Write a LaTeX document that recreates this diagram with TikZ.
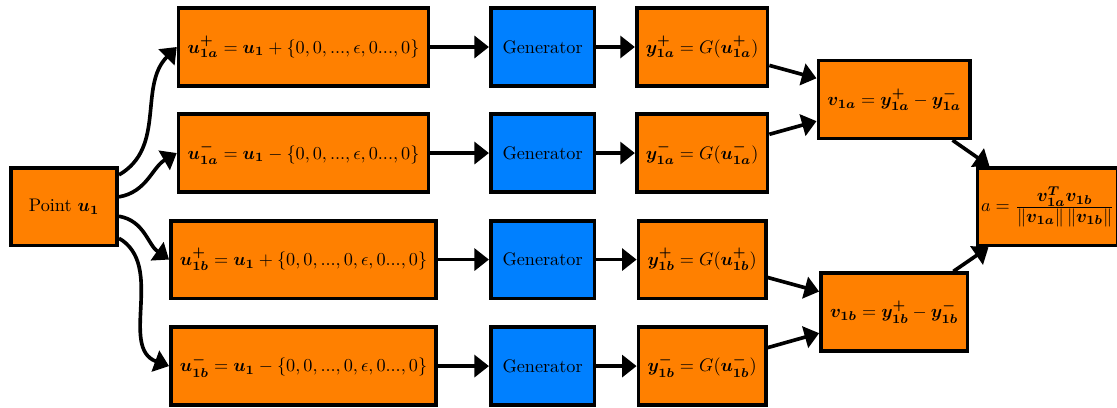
\documentclass[tikz,border=0pt]{standalone}
\usepackage{bm}
\usetikzlibrary{arrows.meta}
\definecolor{genblue}{RGB}{0,128,255}

\begin{document}
\begin{tikzpicture}[
    box/.style={draw, line width=2pt, fill=orange, minimum height=1.5cm, inner xsep=5pt},
    genbox/.style={box, fill=genblue, minimum width=2cm},
    arr/.style={line width=2pt, -{Triangle[length=8pt,width=12pt]}}
  ] %Diferencias finitas para el angulo
    \useasboundingbox (0,0) rectangle (21.56,-7.857);

    \node[box, minimum width=2.05cm] (P) at (1.236,-3.987) {Point $\bm{u_1}$};

    \node[box] (U1) at (5.859,-0.907) {$\bm{u^{+}_{1a}} = \bm{u_1} + \{0,0,...,\epsilon,0...,0\}$};
    \node[box] (U2) at (5.859,-2.954) {$\bm{u^{-}_{1a}} = \bm{u_1} - \{0,0,...,\epsilon,0...,0\}$};
    \node[box] (U3) at (5.859,-5.010) {$\bm{u^{+}_{1b}} = \bm{u_1} + \{0,0,...,0,\epsilon,0...,0\}$};
    \node[box] (U4) at (5.859,-7.066) {$\bm{u^{-}_{1b}} = \bm{u_1} - \{0,0,...,0,\epsilon,0...,0\}$};

    \node[genbox] (G1) at (10.473,-0.907) {Generator};
    \node[genbox] (G2) at (10.473,-2.954) {Generator};
    \node[genbox] (G3) at (10.473,-5.010) {Generator};
    \node[genbox] (G4) at (10.473,-7.066) {Generator};

    \node[box] (Y1) at (13.552,-0.907) {$\bm{y^{+}_{1a}} = G(\bm{u^{+}_{1a}})$};
    \node[box] (Y2) at (13.552,-2.954) {$\bm{y^{-}_{1a}} = G(\bm{u^{-}_{1a}})$};
    \node[box] (Y3) at (13.552,-5.010) {$\bm{y^{+}_{1b}} = G(\bm{u^{+}_{1b}})$};
    \node[box] (Y4) at (13.552,-7.066) {$\bm{y^{-}_{1b}} = G(\bm{u^{-}_{1b}})$};

    \node[box] (V1) at (17.259,-1.921) {$\bm{v_{1a}} = \bm{y^{+}_{1a}} - \bm{y^{-}_{1a}}$};
    \node[box] (V2) at (17.259,-6.023) {$\bm{v_{1b}} = \bm{y^{+}_{1b}} - \bm{y^{-}_{1b}}$};

    \node[box, inner xsep=2pt] (A) at (20.222,-3.987) {$a = \frac{\textstyle\bm{v^{T}_{1a}}\bm{v_{1b}}}{\textstyle\|\bm{v_{1a}}\|\left\|\bm{v_{1b}}\right\|}$};

    \draw[arr] (P) to[out=30, in=225] (U1.west);
    \draw[arr] (P) to[out=10, in=210] (U2.west);
    \draw[arr] (P) to[out=-10, in=145] (U3.west);
    \draw[arr] (P) to[out=-30, in=160] (U4.west);

    \draw[arr] (U1) -- (G1);
    \draw[arr] (U2) -- (G2);
    \draw[arr] (U3) -- (G3);
    \draw[arr] (U4) -- (G4);

    \draw[arr] (G1) -- (Y1);
    \draw[arr] (G2) -- (Y2);
    \draw[arr] (G3) -- (Y3);
    \draw[arr] (G4) -- (Y4);

    \draw[arr] (Y1) -- (V1);
    \draw[arr] (Y2) -- (V1);
    \draw[arr] (Y3) -- (V2);
    \draw[arr] (Y4) -- (V2);

    \draw[arr] (V1) -- (A);
    \draw[arr] (V2) -- (A);
\end{tikzpicture}
\end{document}
